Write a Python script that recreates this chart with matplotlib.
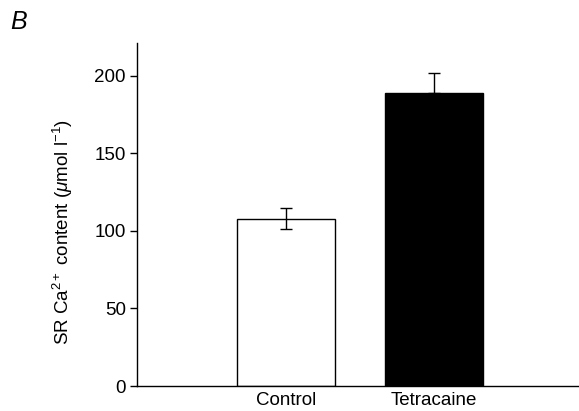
import matplotlib.pyplot as plt
import numpy as np

plt.rcParams['font.family'] = ['Liberation Sans', 'DejaVu Sans']
plt.rcParams['mathtext.fontset'] = 'custom'
plt.rcParams['mathtext.rm'] = 'Liberation Sans'
plt.rcParams['mathtext.it'] = 'Liberation Sans:italic'

# data
groups = ['Control', 'Tetracaine']
content = [108, 189]
err_lower = [7, 0]
err_upper = [7, 13]
colors = ['white', 'black']

fig = plt.figure(figsize=(5.79, 4.11), dpi=100)
ax = fig.add_axes([0.2366, 0.0608, 0.7634, 0.834])

x = np.arange(len(groups))
ax.bar(x, content, width=0.666, color=colors, edgecolor='black', linewidth=1.0)
ax.errorbar(x, content, yerr=[err_lower, err_upper], fmt='none',
            ecolor='black', elinewidth=1.0, capsize=4, capthick=1.0)

ax.set_xlim(-1.007, 1.98)
ax.set_ylim(0, 221)
ax.set_yticks([0, 50, 100, 150, 200])
ax.set_xticks(x)
ax.set_xticklabels(groups, fontsize=13.5)
ax.tick_params(axis='x', length=0, pad=4)
ax.tick_params(axis='y', direction='out', length=5, width=1.0, labelsize=13.5, pad=3)

for s in ['top', 'right']:
    ax.spines[s].set_visible(False)
for s in ['left', 'bottom']:
    ax.spines[s].set_linewidth(1.0)

ax.set_ylabel(r'SR Ca$^{2+}$ content ($\mathit{\mu}$mol l$^{-1}$)', fontsize=13.5)
ax.yaxis.set_label_coords(-0.14, 0.45)

fig.text(0.017, 0.93, 'B', fontsize=18, style='italic')

fig.savefig('out.png', dpi=100)
